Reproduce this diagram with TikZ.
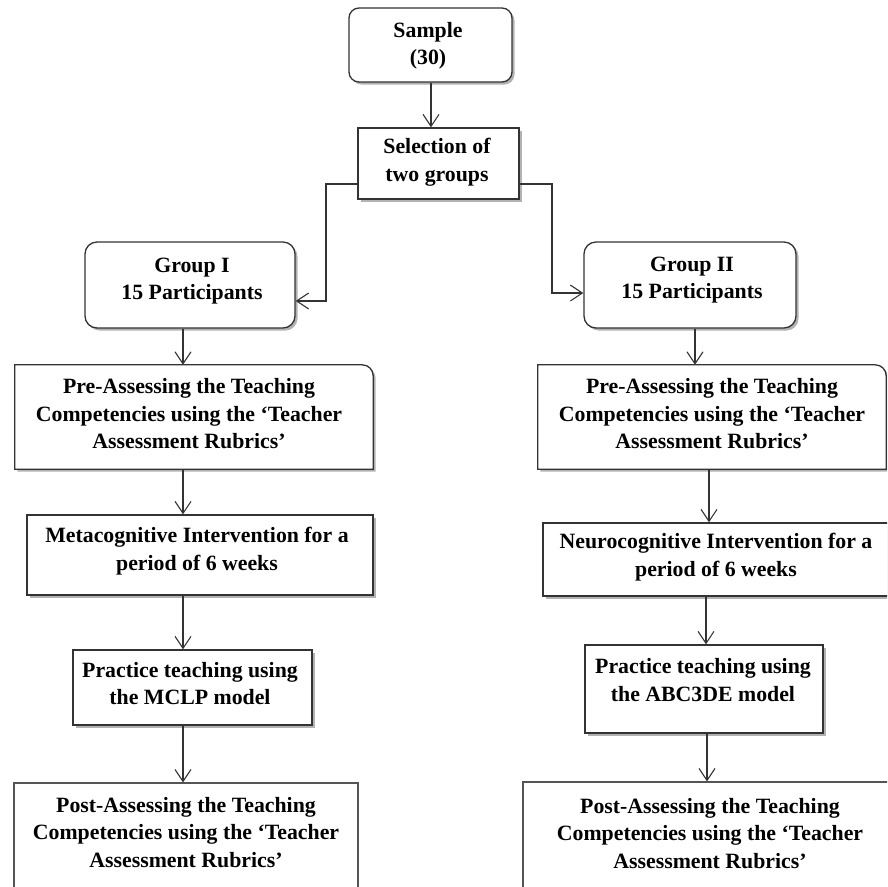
\documentclass[tikz,border=0pt]{standalone}
\usepackage{fontspec}
\setmainfont{Liberation Serif}
\usetikzlibrary{arrows.meta,shadows}
\definecolor{ln}{HTML}{333333}
\definecolor{lnlight}{HTML}{555555}
\tikzset{
  boxbase/.style={draw=ln, line width=1.3pt, fill=white, inner sep=0pt},
  shad/.style={drop shadow={shadow xshift=2.5pt, shadow yshift=-2.5pt, opacity=0.3, fill=black}},
  frame/.style={inner sep=0pt},
  txt/.style={font=\fontsize{21.8}{27.5}\selectfont\bfseries, align=center, inner sep=0pt},
  arr/.style={draw=ln, line width=1.1pt, -{Straight Barb[length=12pt,width=16pt,line width=1.1pt]}},
}
\begin{document}
\begin{tikzpicture}[x=1pt,y=1pt]
\useasboundingbox (0,0) rectangle (887,-887);
\clip (0,0) rectangle (887,-887);
\fill[white] (0,0) rectangle (887,-887);

% boxes
\node[boxbase, shad, rounded corners=10pt, minimum width=163pt, minimum height=74pt] (sample) at (430.5,-45) {};
\node[boxbase, shad, minimum width=161pt, minimum height=71pt] (sel) at (438.5,-163.5) {};
\node[boxbase, shad, rounded corners=12pt, minimum width=210pt, minimum height=86pt] (g1) at (190,-285) {};
\node[boxbase, shad, rounded corners=12pt, minimum width=212pt, minimum height=86pt] (g2) at (690,-285) {};

\node[frame, minimum width=358pt, minimum height=104pt] (pre1) at (194,-417) {};
\draw[boxbase, shad] (pre1.south west) -- (pre1.north west) -- ([xshift=-11pt]pre1.north east)
  arc[start angle=90, end angle=0, radius=11pt] -- (pre1.south east) -- cycle;
\node[frame, minimum width=348pt, minimum height=104pt] (pre2) at (712,-417) {};
\draw[boxbase, shad] (pre2.south west) -- (pre2.north west) -- ([xshift=-11pt]pre2.north east)
  arc[start angle=90, end angle=0, radius=11pt] -- (pre2.south east) -- cycle;

\node[boxbase, shad, minimum width=346pt, minimum height=80pt] (meta) at (200,-555) {};
\node[boxbase, shad, minimum width=352pt, minimum height=73pt] (neuro) at (719,-559.5) {};
\node[boxbase, shad, minimum width=239pt, minimum height=75pt] (prac1) at (192.5,-687.5) {};
\node[boxbase, shad, minimum width=238pt, minimum height=88pt] (prac2) at (704,-689) {};
\node[boxbase, draw=lnlight, line width=1.2pt, minimum width=344pt, minimum height=167pt] (post1) at (186,-866.5) {};
\node[boxbase, draw=lnlight, line width=1.2pt, minimum width=374pt, minimum height=167pt] (post2) at (710,-865.5) {};

% texts
\node[txt] (samplet) at (428,-46) {Sample\\(30)};
\node[txt] (selt) at (437,-162) {Selection of\\two groups};
\node[txt] (g1t) at (192,-281) {Group I\\15 Participants};
\node[txt] (g2t) at (692,-280) {Group II\\15 Participants};
\node[txt] (pre1t) at (189,-414) {Pre-Assessing the Teaching\\Competencies using the ‘Teacher\\Assessment Rubrics’};
\node[txt] (pre2t) at (712,-414) {Pre-Assessing the Teaching\\Competencies using the ‘Teacher\\Assessment Rubrics’};
\node[txt] (metat) at (197,-551) {Metacognitive Intervention for a\\period of 6 weeks};
\node[txt] (neurot) at (716,-557) {Neurocognitive Intervention for a\\period of 6 weeks};
\node[txt] (prac1t) at (190,-683.5) {Practice teaching using\\the MCLP model};
\node[txt] (prac2t) at (703,-680) {Practice teaching using\\the ABC3DE model};
\node[txt] (post1t) at (186,-832.5) {Post-Assessing the Teaching\\Competencies using the ‘Teacher\\Assessment Rubrics’};
\node[txt] (post2t) at (710,-833.5) {Post-Assessing the Teaching\\Competencies using the ‘Teacher\\Assessment Rubrics’};

% connector columns
\coordinate (cA) at (431,0);
\coordinate (cL) at (183,0);
\coordinate (cR1) at (695,0);
\coordinate (cR2) at (709,0);
\coordinate (cR3) at (706,0);
\coordinate (cR4) at (707,0);
\coordinate (rowB) at (0,-184);
\coordinate (rowL) at (0,-301);
\coordinate (rowR) at (0,-293);
\coordinate (vL) at (326,0);
\coordinate (vR) at (552,0);

% connectors
\draw[arr] (sample.south -| cA) -- (sel.north -| cA);
\draw[arr] (sel.west |- rowB) -- (vL |- rowB) -- (vL |- rowL) -- (g1.east |- rowL);
\draw[arr] (sel.east |- rowB) -- (vR |- rowB) -- (vR |- rowR) -- (g2.west |- rowR);
\draw[arr] (g1.south -| cL) -- (pre1.north -| cL);
\draw[arr] (pre1.south -| cL) -- (meta.north -| cL);
\draw[arr] (meta.south -| cL) -- (prac1.north -| cL);
\draw[arr] (prac1.south -| cL) -- (post1.north -| cL);
\draw[arr] (g2.south -| cR1) -- (pre2.north -| cR1);
\draw[arr] (pre2.south -| cR2) -- (neuro.north -| cR2);
\draw[arr] (neuro.south -| cR3) -- (prac2.north -| cR3);
\draw[arr] (prac2.south -| cR4) -- (post2.north -| cR4);
\end{tikzpicture}
\end{document}
